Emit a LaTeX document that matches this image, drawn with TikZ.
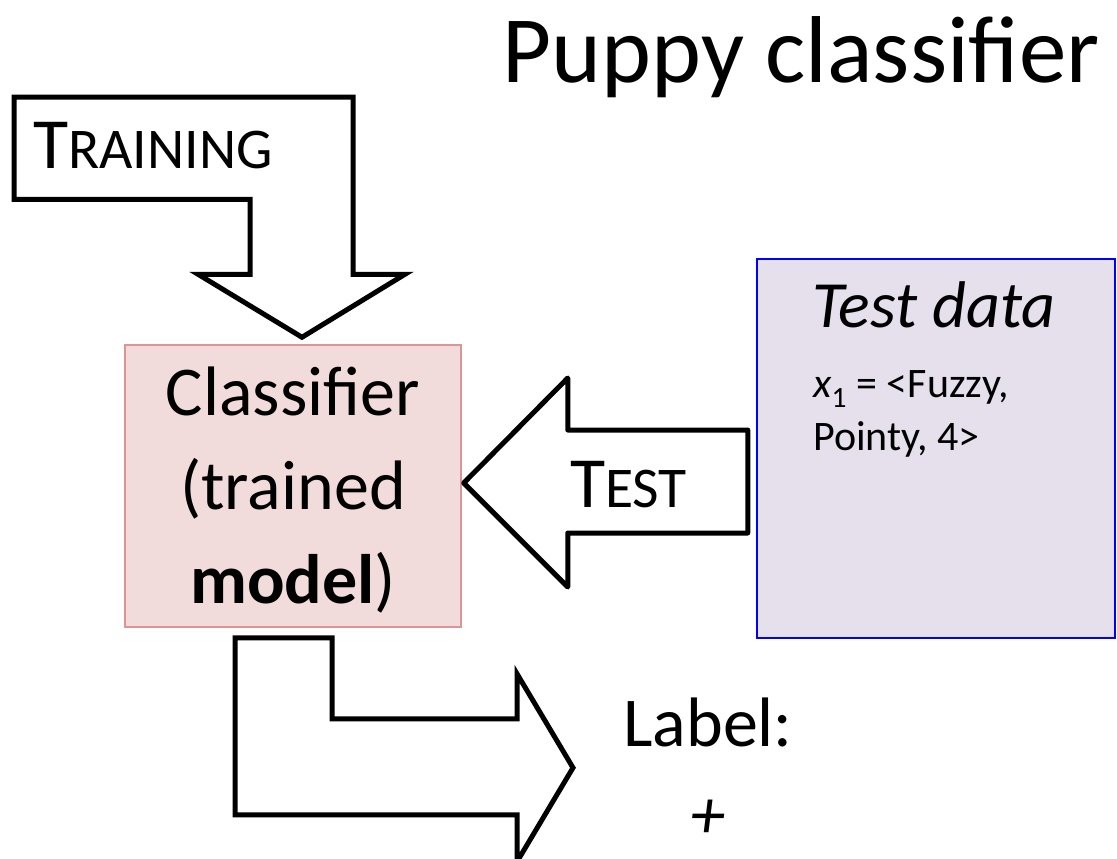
\documentclass[tikz,border=0pt]{standalone}
\usepackage{fontspec}
\setmainfont{Carlito}
\definecolor{clffill}{RGB}{242,220,219}
\definecolor{clfline}{RGB}{217,150,148}
\definecolor{datafill}{RGB}{229,224,236}
\definecolor{dataline}{RGB}{0,0,255}
% synthetic small capitals: first letter full size, rest reduced
\newcommand{\fauxcaps}[2]{#1{\fontsize{57.6}{70}\selectfont #2}}

\begin{document}
\begin{tikzpicture}[x=1pt,y=-1pt,
  blockarrow/.style={draw=black, fill=white, line width=5pt, line join=miter},
  txt/.style={inner sep=0pt, text=black},
]
\useasboundingbox (0,0) rectangle (1117,859);

% title
\node[txt, anchor=base east, font=\fontsize{95}{114}\selectfont] (title) at (1100,82) {Puppy classifier};

% classifier box (multi-line texts are anchored at the baseline of their last line)
\node[draw=clfline, fill=clffill, line width=1.5pt, minimum width=336pt, minimum height=282pt, inner sep=0pt] (clf) at (293,486) {};
\node[txt, align=center, anchor=base, font=\fontsize{70}{94}\selectfont] (clftext) at (293,603) {Classifier\\(trained\\\textbf{model})};

% test data box
\node[draw=dataline, fill=datafill, line width=2pt, minimum width=358pt, minimum height=379pt, inner sep=0pt] (data) at (936,448.5) {};
\node[txt, anchor=base west, font=\fontsize{66}{80}\selectfont\itshape] (datatitle) at (812,327) {Test data};
\node[txt, anchor=base west, align=left, font=\fontsize{42}{53}\selectfont] (datatext) at (813,450) {\textit{x}\textsubscript{1} = <Fuzzy,\\Pointy, 4>};

% training arrow into the classifier
\draw[blockarrow] ([shift={(9,-7)}]clf.north) -- ++(103,-63) -- ++(-52,0) -- ++(0,-177)
  -- ++(-339,0) -- ++(0,102) -- ++(236,0) -- ++(0,75) -- ++(-52,0) -- cycle;
\node[txt, anchor=base west, font=\fontsize{72}{86}\selectfont] (trainlbl) at (33,168) {\fauxcaps{T}{RAINING}};

% test arrow from the data box to the classifier
\draw[blockarrow, line join=round] ([shift={(2,-3)}]clf.east) -- ++(104,-105) -- ++(0,52)
  -- ++(180,0) -- ++(0,103) -- ++(-180,0) -- ++(0,54) -- cycle;
\node[txt, anchor=base west, font=\fontsize{72}{86}\selectfont] (testlbl) at (570,507) {\fauxcaps{T}{EST}};

% output arrow from the classifier to the label
\draw[blockarrow] ([shift={(-58,10)}]clf.south) -- ++(97,0) -- ++(0,81) -- ++(185,0)
  -- ++(0,-45) -- ++(56,94) -- ++(-56,94) -- ++(0,-47) -- ++(-282,0) -- cycle;
\node[txt, align=center, anchor=base, font=\fontsize{70}{92}\selectfont] (label) at (708,838) {Label:\\\textit{+}};
\end{tikzpicture}
\end{document}
